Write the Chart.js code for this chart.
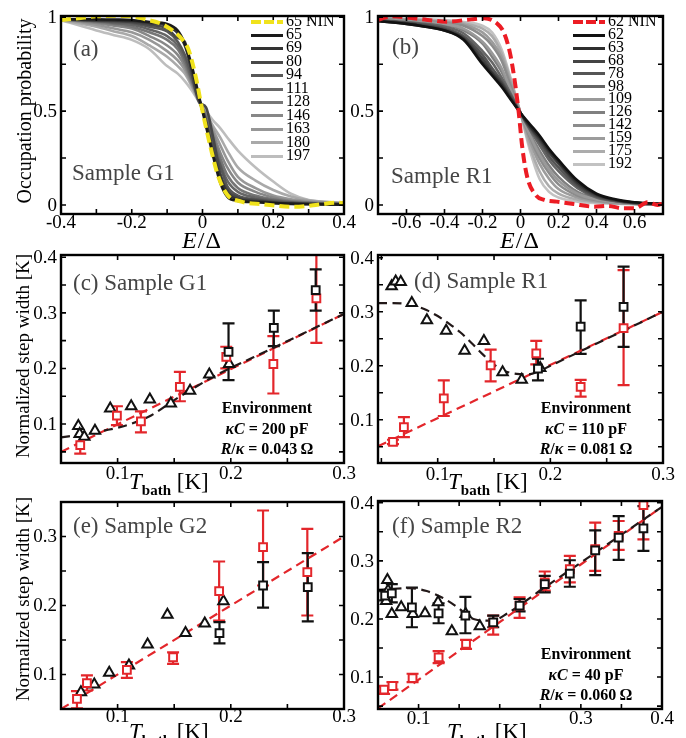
<!DOCTYPE html>
<html>
<head>
<meta charset="utf-8">
<script src="https://cdn.jsdelivr.net/npm/chart.js@4.4.1/dist/chart.umd.min.js"></script>
<style>
body { margin: 0; background: #fff; }
#page { position: relative; width: 686px; height: 738px; overflow: hidden; font-family: 'Liberation Serif', serif; color: #000; }
canvas { position: absolute; }
.t { position: absolute; white-space: nowrap; line-height: 1; }
.sw { display: inline-block; width: 32px; margin-right: 3px; }
</style>
</head>
<body>
<div id="page"></div>
<script>
// ---- (a) occupation probability, sample G1 ----
const aE = [-0.4, -0.3, -0.25, -0.2, -0.15, -0.1, -0.07, -0.05, -0.03, -0.01, 0.01, 0.03, 0.05, 0.07, 0.1, 0.15, 0.2, 0.25, 0.3, 0.4];
const aTemps = [65, 69, 80, 94, 111, 128, 146, 163, 180, 197];
const aGrays = ['#1a1a1a', '#333333', '#474747', '#575757', '#666666', '#767676', '#878787', '#979797', '#a9a9a9', '#bdbdbd'];
const aCurves = [
    [0.99, 0.99, 0.988, 0.985, 0.975, 0.965, 0.93, 0.86, 0.74, 0.58, 0.42, 0.26, 0.12, 0.045, 0.022, 0.015, 0.01, 0.006, 0.004, 0.002],
    [0.99, 0.985, 0.983, 0.98, 0.97, 0.955, 0.915, 0.85, 0.72, 0.57, 0.44, 0.28, 0.15, 0.065, 0.03, 0.02, 0.012, 0.008, 0.005, 0.003],
    [0.99, 0.985, 0.98, 0.975, 0.96, 0.94, 0.89, 0.87, 0.7, 0.55, 0.52, 0.36, 0.17, 0.08, 0.04, 0.025, 0.015, 0.01, 0.007, 0.004],
    [0.99, 0.98, 0.975, 0.97, 0.95, 0.925, 0.87, 0.8, 0.69, 0.56, 0.45, 0.31, 0.21, 0.1, 0.05, 0.03, 0.02, 0.012, 0.008, 0.004],
    [0.99, 0.98, 0.97, 0.96, 0.935, 0.9, 0.85, 0.78, 0.67, 0.56, 0.46, 0.34, 0.22, 0.13, 0.07, 0.04, 0.025, 0.015, 0.01, 0.005],
    [0.99, 0.975, 0.965, 0.95, 0.92, 0.88, 0.83, 0.76, 0.66, 0.56, 0.47, 0.36, 0.25, 0.16, 0.09, 0.05, 0.03, 0.018, 0.012, 0.006],
    [0.99, 0.97, 0.955, 0.94, 0.9, 0.85, 0.8, 0.74, 0.65, 0.56, 0.48, 0.38, 0.28, 0.2, 0.12, 0.07, 0.04, 0.022, 0.015, 0.007],
    [0.99, 0.96, 0.94, 0.92, 0.88, 0.82, 0.77, 0.72, 0.64, 0.55, 0.48, 0.4, 0.32, 0.24, 0.15, 0.09, 0.05, 0.03, 0.02, 0.008],
    [0.985, 0.95, 0.925, 0.9, 0.85, 0.79, 0.74, 0.7, 0.63, 0.55, 0.49, 0.42, 0.36, 0.29, 0.2, 0.13, 0.08, 0.045, 0.025, 0.01],
    [0.985, 0.93, 0.905, 0.88, 0.83, 0.74, 0.7, 0.66, 0.61, 0.55, 0.5, 0.45, 0.41, 0.36, 0.29, 0.2, 0.125, 0.06, 0.027, 0.01]
];
const aNinE = [-0.4, -0.35, -0.3, -0.25, -0.2, -0.155, -0.12, -0.085, -0.06, -0.04, -0.02, 0, 0.025, 0.045, 0.07, 0.11, 0.17, 0.26, 0.32, 0.38, 0.4];
const aNin = [0.985, 0.995, 1.005, 1.008, 1.006, 0.986, 0.968, 0.93, 0.888, 0.83, 0.69, 0.5, 0.29, 0.15, 0.055, 0.018, 0.004, -0.01, 0.0, 0.012, 0.01];

// ---- (b) occupation probability, sample R1 ----
const bE = [-0.75, -0.6, -0.5, -0.4, -0.3, -0.2, -0.15, -0.1, -0.05, 0, 0.05, 0.1, 0.15, 0.2, 0.3, 0.4, 0.5, 0.6, 0.75];
const bTemps = [62, 63, 68, 78, 98, 109, 126, 142, 159, 175, 192];
const bGrays = ['#111111', '#2e2e2e', '#444444', '#555555', '#666666', '#999999', '#808080', '#8c8c8c', '#9c9c9c', '#acacac', '#c2c2c2'];
const bCurves = [
    [0.98, 0.965, 0.95, 0.93, 0.88, 0.75, 0.69, 0.63, 0.56, 0.49, 0.43, 0.37, 0.3, 0.24, 0.13, 0.06, 0.03, 0.015, 0.005],
    [0.98, 0.965, 0.95, 0.93, 0.885, 0.76, 0.7, 0.64, 0.565, 0.49, 0.42, 0.36, 0.29, 0.23, 0.12, 0.055, 0.027, 0.013, 0.005],
    [0.98, 0.97, 0.955, 0.935, 0.89, 0.78, 0.71, 0.65, 0.57, 0.49, 0.415, 0.35, 0.28, 0.22, 0.11, 0.05, 0.025, 0.012, 0.005],
    [0.985, 0.97, 0.96, 0.94, 0.9, 0.8, 0.73, 0.66, 0.58, 0.49, 0.41, 0.34, 0.26, 0.2, 0.1, 0.045, 0.022, 0.01, 0.004],
    [0.985, 0.975, 0.965, 0.95, 0.915, 0.82, 0.76, 0.68, 0.59, 0.49, 0.4, 0.32, 0.24, 0.18, 0.09, 0.04, 0.02, 0.01, 0.004],
    [0.99, 0.98, 0.975, 0.965, 0.94, 0.87, 0.81, 0.73, 0.61, 0.49, 0.37, 0.27, 0.19, 0.13, 0.06, 0.03, 0.015, 0.008, 0.004],
    [0.99, 0.98, 0.97, 0.96, 0.93, 0.86, 0.79, 0.71, 0.6, 0.49, 0.38, 0.29, 0.21, 0.15, 0.07, 0.035, 0.017, 0.009, 0.004],
    [0.99, 0.985, 0.98, 0.97, 0.955, 0.9, 0.85, 0.77, 0.63, 0.49, 0.36, 0.25, 0.17, 0.11, 0.05, 0.025, 0.013, 0.007, 0.003],
    [0.99, 0.985, 0.98, 0.975, 0.962, 0.92, 0.87, 0.79, 0.645, 0.49, 0.34, 0.22, 0.14, 0.085, 0.04, 0.02, 0.01, 0.006, 0.003],
    [0.995, 0.99, 0.985, 0.98, 0.968, 0.94, 0.9, 0.81, 0.66, 0.49, 0.31, 0.18, 0.1, 0.06, 0.028, 0.016, 0.009, 0.005, 0.003],
    [0.995, 0.99, 0.99, 0.985, 0.975, 0.955, 0.92, 0.83, 0.67, 0.49, 0.29, 0.14, 0.07, 0.04, 0.018, 0.01, 0.007, 0.004, 0.002]
];
const bNinE = [-0.75, -0.68, -0.6, -0.49, -0.39, -0.26, -0.19, -0.125, -0.09, -0.055, -0.026, -0.009, 0.009, 0.035, 0.08, 0.125, 0.19, 0.28, 0.39, 0.46, 0.54, 0.6, 0.67, 0.72, 0.75];
const bNin = [0.986, 1.006, 1.0, 0.986, 0.977, 0.989, 0.995, 0.968, 0.924, 0.808, 0.63, 0.49, 0.31, 0.15, 0.053, 0.027, 0.018, 0.005, -0.009, -0.005, -0.018, -0.018, 0.014, 0.0, 0.01];

// ---- (c) step width, sample G1 ----
const cTriT = [0.0653, 0.0665, 0.0706, 0.080, 0.0935, 0.112, 0.1285, 0.147, 0.164, 0.181, 0.1985];
const cTriW = [0.0964, 0.082, 0.077, 0.088, 0.128, 0.132, 0.144, 0.137, 0.160, 0.189, 0.208];
const cBlkT = [0.198, 0.238, 0.275];
const cBlkW = [0.230, 0.273, 0.341];
const cBlkLo = [0.179, 0.240, 0.304];
const cBlkHi = [0.281, 0.304, 0.378];
const cRedT = [0.067, 0.0994, 0.1206, 0.155, 0.196, 0.2376, 0.2756];
const cRedW = [0.062, 0.115, 0.105, 0.167, 0.221, 0.208, 0.326];
const cRedLo = [0.047, 0.098, 0.085, 0.141, 0.200, 0.155, 0.246];
const cRedHi = [0.077, 0.132, 0.123, 0.194, 0.239, 0.258, 0.41];
const cFitT = [0.05, 0.07, 0.09, 0.11, 0.13, 0.15, 0.17, 0.19, 0.22, 0.26, 0.3];
const cFitW = [0.076, 0.082, 0.089, 0.099, 0.116, 0.143, 0.168, 0.191, 0.22, 0.259, 0.298];
const cLinT = [0.05, 0.3];
const cLinW = [0.05, 0.298];

// ---- (d) step width, sample R1 ----
const dTriT = [0.0591, 0.0627, 0.0672, 0.077, 0.0904, 0.1075, 0.1239, 0.141, 0.1576, 0.1746, 0.191];
const dTriW = [0.347, 0.356, 0.355, 0.316, 0.284, 0.265, 0.228, 0.246, 0.188, 0.174, 0.196];
const dBlkT = [0.189, 0.2269, 0.265];
const dBlkW = [0.1945, 0.2726, 0.309];
const dBlkLo = [0.173, 0.222, 0.235];
const dBlkHi = [0.213, 0.321, 0.3835];
const dRedT = [0.0603, 0.070, 0.1054, 0.147, 0.1875, 0.2269, 0.265];
const dRedW = [0.059, 0.0866, 0.1396, 0.2006, 0.223, 0.161, 0.2695];
const dRedLo = [0.055, 0.068, 0.107, 0.171, 0.2025, 0.1427, 0.164];
const dRedHi = [0.063, 0.105, 0.173, 0.230, 0.246, 0.174, 0.377];
const dFitT = [0.047, 0.06, 0.07, 0.08, 0.09, 0.1, 0.11, 0.12, 0.13, 0.14, 0.15, 0.16, 0.17, 0.18, 0.19, 0.2, 0.25, 0.3];
const dFitW = [0.316, 0.316, 0.315, 0.311, 0.303, 0.292, 0.278, 0.262, 0.242, 0.221, 0.202, 0.19, 0.185, 0.184, 0.19, 0.2, 0.25, 0.3];
const dLinT = [0.047, 0.3];
const dLinW = [0.051, 0.3];

// ---- (e) step width, sample G2 ----
const eTriT = [0.0676, 0.0794, 0.0926, 0.110, 0.1265, 0.144, 0.160, 0.177, 0.1935];
const eTriW = [0.0744, 0.0855, 0.1024, 0.113, 0.1435, 0.1865, 0.160, 0.174, 0.206];
const eBlkT = [0.190, 0.2285, 0.268];
const eBlkW = [0.160, 0.229, 0.2266];
const eBlkLo = [0.145, 0.197, 0.177];
const eBlkHi = [0.176, 0.263, 0.276];
const eRedT = [0.0641, 0.0729, 0.1082, 0.149, 0.1897, 0.2285, 0.2676];
const eRedW = [0.0647, 0.0874, 0.1068, 0.125, 0.2208, 0.2845, 0.2483];
const eRedLo = [0.051, 0.0768, 0.095, 0.1155, 0.178, 0.229, 0.1855];
const eRedHi = [0.076, 0.0986, 0.118, 0.132, 0.2638, 0.3377, 0.311];
const eLinT = [0.05, 0.3];
const eLinW = [0.05, 0.3];

// ---- (f) step width, sample R2 ----
const fTriT = [0.0616, 0.0624, 0.06, 0.067, 0.0786, 0.093, 0.108, 0.124, 0.141, 0.158, 0.1755];
const fTriW = [0.267, 0.249, 0.231, 0.2086, 0.22, 0.2086, 0.21, 0.2286, 0.179, 0.2086, 0.1874];
const fBlkT = [0.0588, 0.067, 0.0918, 0.1247, 0.1577, 0.192, 0.2245, 0.2555, 0.2864, 0.3177, 0.3466, 0.3771];
const fBlkW = [0.24, 0.244, 0.22, 0.2097, 0.2057, 0.194, 0.2229, 0.26, 0.278, 0.318, 0.34, 0.356];
const fBlkLo = [0.232, 0.2286, 0.1857, 0.1926, 0.1754, 0.1857, 0.2131, 0.2457, 0.2554, 0.2754, 0.3017, 0.317];
const fBlkHi = [0.248, 0.26, 0.254, 0.2269, 0.238, 0.2057, 0.2343, 0.2743, 0.301, 0.3526, 0.377, 0.3943];
const fRedT = [0.0575, 0.0678, 0.0926, 0.1247, 0.1585, 0.192, 0.2245, 0.2555, 0.2864, 0.3177, 0.3466, 0.3771];
const fRedW = [0.0783, 0.0846, 0.0983, 0.134, 0.157, 0.1926, 0.2229, 0.263, 0.2857, 0.32, 0.3429, 0.396];
const fRedLo = [0.071, 0.0783, 0.0914, 0.124, 0.1486, 0.173, 0.2017, 0.2486, 0.2629, 0.2829, 0.3189, 0.337];
const fRedHi = [0.084, 0.0914, 0.1057, 0.1446, 0.164, 0.2057, 0.237, 0.2817, 0.3086, 0.3657, 0.3686, 0.41];
const fFitT = [0.05, 0.07, 0.09, 0.11, 0.13, 0.15, 0.16, 0.17, 0.19, 0.21, 0.25, 0.3, 0.35, 0.4];
const fFitW = [0.25, 0.252, 0.253, 0.248, 0.236, 0.218, 0.206, 0.199, 0.197, 0.21, 0.249, 0.297, 0.345, 0.393];
const fLinT = [0.05, 0.4];
const fLinW = [0.046, 0.393];

// ---- ticks ----
const aXTicks = [-0.4, -0.3, -0.2, -0.1, 0, 0.1, 0.2, 0.3, 0.4];
const aXLabels = [-0.4, -0.2, 0, 0.2, 0.4];
const bXTicks = [-0.6, -0.4, -0.2, 0, 0.2, 0.4, 0.6];
const bXLabels = [-0.6, -0.4, -0.2, 0, 0.2, 0.4, 0.6];
const occTicks = [0, 0.25, 0.5, 0.75, 1];
const occLabels = [0, 0.5, 1];
const tTicks = [0.05, 0.1, 0.15, 0.2, 0.25, 0.3, 0.35, 0.4];
const tLabels = [0.1, 0.2, 0.3];
const fXLabels = [0.1, 0.3, 0.4];
const wTicks = [0.05, 0.1, 0.15, 0.2, 0.25, 0.3, 0.35, 0.4];
const wLabels = [0.1, 0.2, 0.3, 0.4];
const eWLabels = [0.1, 0.2, 0.3];

const RED = '#e3262b';
const DARK = '#221818';
const page = document.getElementById('page');

function pts(xs, ys) { return xs.map((x, i) => ({ x: x, y: ys[i] })); }

function curve(label, xs, ys, color, width, dash, order) {
    return {
        label: label, data: pts(xs, ys), showLine: true, borderColor: color, backgroundColor: color,
        borderWidth: width, borderDash: dash || [], pointRadius: 0, cubicInterpolationMode: 'monotone',
        order: order || 0
    };
}

function marks(xs, ys, color, style, order, lo, hi) {
    return {
        data: pts(xs, ys), showLine: false, pointStyle: style, pointRadius: style === 'rect' ? 5.5 : 6,
        borderColor: color, backgroundColor: '#fff', pointBorderWidth: 2, borderWidth: 2,
        order: order, errLo: lo, errHi: hi
    };
}

// error bars, drawn under the markers
const errorBars = {
    id: 'errorBars',
    beforeDatasetsDraw(chart) {
        const { ctx, chartArea: a, scales: { x, y } } = chart;
        ctx.save();
        ctx.beginPath();
        ctx.rect(a.left, a.top, a.right - a.left, a.bottom - a.top);
        ctx.clip();
        ctx.lineWidth = 2.2;
        chart.data.datasets.forEach(ds => {
            if (!ds.errLo) return;
            ctx.strokeStyle = ds.borderColor;
            ds.data.forEach((p, i) => {
                const px = x.getPixelForValue(p.x);
                const lo = y.getPixelForValue(ds.errLo[i]);
                const hi = y.getPixelForValue(ds.errHi[i]);
                ctx.beginPath();
                ctx.moveTo(px, lo); ctx.lineTo(px, hi);
                ctx.moveTo(px - 6, lo); ctx.lineTo(px + 6, lo);
                ctx.moveTo(px - 6, hi); ctx.lineTo(px + 6, hi);
                ctx.stroke();
            });
        });
        ctx.restore();
    }
};

// box frame with inward ticks on all four sides, plus tick labels
const frame = {
    id: 'frame',
    afterDatasetsDraw(chart, args, o) {
        const { ctx, chartArea: a, scales: { x, y } } = chart;
        ctx.save();
        ctx.strokeStyle = '#000';
        ctx.lineWidth = 1.6;
        ctx.beginPath();
        o.xTicks.forEach(v => {
            const px = x.getPixelForValue(v);
            ctx.moveTo(px, a.bottom); ctx.lineTo(px, a.bottom - 5);
            ctx.moveTo(px, a.top); ctx.lineTo(px, a.top + 5);
        });
        o.yTicks.forEach(v => {
            const py = y.getPixelForValue(v);
            ctx.moveTo(a.left, py); ctx.lineTo(a.left + 5, py);
            ctx.moveTo(a.right, py); ctx.lineTo(a.right - 5, py);
        });
        ctx.stroke();
        ctx.lineWidth = 2.4;
        ctx.strokeRect(a.left, a.top, a.right - a.left, a.bottom - a.top);
        ctx.fillStyle = '#000';
        ctx.font = '19px "Liberation Serif"';
        ctx.textBaseline = 'middle';
        ctx.textAlign = 'center';
        o.xLabels.forEach(v => ctx.fillText(String(v), x.getPixelForValue(v), a.bottom + o.xDy));
        ctx.textAlign = 'right';
        o.yLabels.forEach(v => ctx.fillText(String(v), a.left - 4, y.getPixelForValue(v) + 1));
        ctx.restore();
    }
};

function makePanel(box, xr, yr, datasets, tickOpts) {
    const padL = 60, padT = 12, padR = 22, padB = 30;
    const w = box.r - box.l + padL + padR, h = box.b - box.t + padT + padB;
    const c = document.createElement('canvas');
    c.width = w; c.height = h;
    c.style.width = w + 'px'; c.style.height = h + 'px';
    c.style.left = (box.l - padL) + 'px'; c.style.top = (box.t - padT) + 'px';
    page.appendChild(c);
    return new Chart(c, {
        type: 'scatter',
        data: { datasets: datasets },
        options: {
            responsive: false, animation: false, devicePixelRatio: 1, events: [],
            layout: { padding: { left: padL, top: padT, right: padR, bottom: padB } },
            scales: {
                x: { type: 'linear', min: xr[0], max: xr[1], display: false },
                y: { type: 'linear', min: yr[0], max: yr[1], display: false }
            },
            plugins: { legend: { display: false }, tooltip: { enabled: false }, frame: tickOpts }
        },
        plugins: [errorBars, frame]
    });
}

function text(html, x, y, size, opts) {
    opts = opts || {};
    const d = document.createElement('div');
    d.className = 't';
    d.innerHTML = html;
    d.style.left = x + 'px'; d.style.top = y + 'px';
    d.style.fontSize = size + 'px';
    if (opts.color) d.style.color = opts.color;
    if (opts.bold) d.style.fontWeight = 'bold';
    if (opts.spacing) d.style.letterSpacing = opts.spacing + 'px';
    d.style.transform = (opts.center ? 'translate(-50%,-50%)' : 'translateY(-50%)') + (opts.rot ? ' rotate(-90deg)' : '');
    page.appendChild(d);
    return d;
}

function htmlLegend(chart, x, y0, dy) {
    chart.data.datasets.forEach((ds, i) => {
        const dashed = ds.borderDash && ds.borderDash.length;
        const bg = dashed
            ? 'repeating-linear-gradient(90deg,' + ds.borderColor + ' 0 10px, transparent 10px 13px)'
            : ds.borderColor;
        const h = dashed ? 4 : 3;
        text('<span class="sw" style="height:' + h + 'px;vertical-align:middle;background:' + bg + '"></span>' + ds.label,
            x, y0 + i * dy, 16);
    });
}

// ---- (a) ----
const aSets = [curve('65 NIN', aNinE, aNin, '#f0e21c', 4, [10, 5])];
aTemps.forEach((t, i) => aSets.push(curve(String(t), aE, aCurves[i], aGrays[i], 2.6)));
const chartA = makePanel({ l: 61, t: 16, r: 344, b: 214 }, [-0.4, 0.4], [-0.048, 1.007], aSets,
    { xTicks: aXTicks, yTicks: occTicks, xLabels: aXLabels, yLabels: occLabels, xDy: 9 });
htmlLegend(chartA, 251, 20.5, 13.45);

// ---- (b) ----
const bSets = [curve('62 NIN', bNinE, bNin, '#ec1c24', 4, [10, 5])];
bTemps.forEach((t, i) => bSets.push(curve(String(t), bE, bCurves[i], bGrays[i], 2.6)));
const chartB = makePanel({ l: 378, t: 16, r: 663, b: 214 }, [-0.75, 0.75], [-0.048, 1.007], bSets,
    { xTicks: bXTicks, yTicks: occTicks, xLabels: bXLabels, yLabels: occLabels, xDy: 9 });
htmlLegend(chartB, 573, 21, 12.9);

// ---- (c)-(f) ----
function widthSets(linT, linW, fitT, fitW, triT, triW, blkT, blkW, blkLo, blkHi, redT, redW, redLo, redHi) {
    const s = [curve('', linT, linW, RED, 2.2, [9, 5.5], 5)];
    if (fitT) s.push(curve('', fitT, fitW, DARK, 2.2, [9, 5.5], 4));
    s.push(marks(triT, triW, '#111', 'triangle', 3));
    s.push(marks(redT, redW, RED, 'rect', 2, redLo, redHi));
    s.push(marks(blkT, blkW, '#111', 'rect', 1, blkLo, blkHi));
    return s;
}

makePanel({ l: 61, t: 255, r: 344, b: 463 }, [0.05, 0.3], [0.03, 0.404],
    widthSets(cLinT, cLinW, cFitT, cFitW, cTriT, cTriW, cBlkT, cBlkW, cBlkLo, cBlkHi, cRedT, cRedW, cRedLo, cRedHi),
    { xTicks: tTicks, yTicks: wTicks, xLabels: tLabels, yLabels: wLabels, xDy: 11 });

makePanel({ l: 378, t: 255, r: 663, b: 463 }, [0.047, 0.3], [0.02, 0.405],
    widthSets(dLinT, dLinW, dFitT, dFitW, dTriT, dTriW, dBlkT, dBlkW, dBlkLo, dBlkHi, dRedT, dRedW, dRedLo, dRedHi),
    { xTicks: tTicks, yTicks: wTicks, xLabels: tLabels, yLabels: wLabels, xDy: 12 });

makePanel({ l: 61, t: 502, r: 344, b: 709 }, [0.05, 0.3], [0.05, 0.35],
    widthSets(eLinT, eLinW, null, null, eTriT, eTriW, eBlkT, eBlkW, eBlkLo, eBlkHi, eRedT, eRedW, eRedLo, eRedHi),
    { xTicks: tTicks, yTicks: wTicks, xLabels: tLabels, yLabels: eWLabels, xDy: 8 });

makePanel({ l: 378, t: 501, r: 662, b: 709 }, [0.05, 0.4], [0.045, 0.403],
    widthSets(fLinT, fLinW, fFitT, fFitW, fTriT, fTriW, fBlkT, fBlkW, fBlkLo, fBlkHi, fRedT, fRedW, fRedLo, fRedHi),
    { xTicks: tTicks, yTicks: wTicks, xLabels: fXLabels, yLabels: wLabels, xDy: 10 });

// ---- texts ----
const GREY = '#454545';
text('Occupation probability', 24, 111, 20, { center: true, rot: true });
text('Normalized step width [K]', 22, 356, 19, { center: true, rot: true });
text('Normalized step width [K]', 22, 599, 19, { center: true, rot: true });

text('<i>E</i>/Δ', 202, 240, 24, { center: true, spacing: 1 });
text('<i>E</i>/Δ', 520, 240, 24, { center: true, spacing: 1 });

const tBath = '<i>T</i><span style="position:relative;top:6px;font-size:15px;font-weight:bold">bath</span> [K]';
text(tBath, 129, 481, 23);
text(tBath, 448, 481, 23);
text(tBath, 129, 731, 23);
text(tBath, 447, 731, 23);

text('(a)', 73, 48, 23, { color: GREY });
text('Sample G1', 72, 172, 23, { color: GREY });
text('(b)', 392, 46, 23, { color: GREY });
text('Sample R1', 391, 175, 23, { color: GREY });
text('(c) Sample G1', 73, 282, 23, { color: GREY });
text('(d) Sample R1', 414, 280, 23, { color: GREY });
text('(e) Sample G2', 73, 525, 23, { color: GREY });
text('(f) Sample R2', 392, 525, 23, { color: GREY });

function envBlock(cx, y0, kc, rk) {
    text('Environment', cx, y0, 16, { center: true, bold: true });
    text('<i>κC</i> = ' + kc + ' pF', cx, y0 + 21, 16, { center: true, bold: true });
    text('<i>R</i>/<i>κ</i> = ' + rk + '&thinsp;Ω', cx, y0 + 41, 16, { center: true, bold: true });
}
envBlock(267, 408, '200', '0.043');
envBlock(586, 408, '110', '0.081');
envBlock(586, 654, '40', '0.060');
</script>
</body>
</html>
